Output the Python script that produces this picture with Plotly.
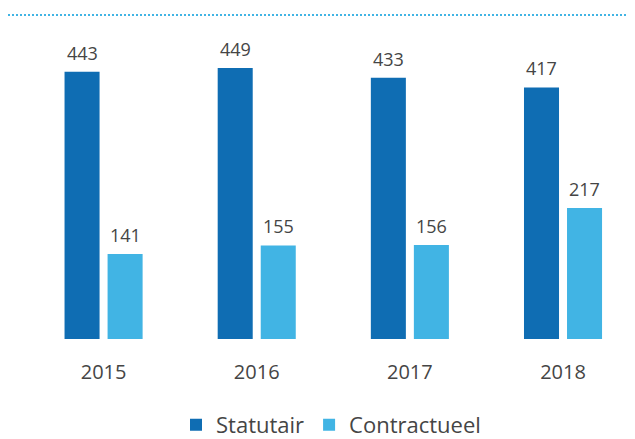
import plotly.graph_objects as go

years = ["2015", "2016", "2017", "2018"]
statutair = [443, 449, 433, 417]
contractueel = [141, 155, 156, 217]
series_names = ["Statutair", "Contractueel"]

dark = "#0f6db3"
light = "#41b4e4"
txt = "#454545"
FONT = "Open Sans"

fig = go.Figure()
fig.add_trace(go.Bar(x=years, y=statutair, name=series_names[0], marker_color=dark,
                     marker_line_width=0))
fig.add_trace(go.Bar(x=years, y=contractueel, name=series_names[1], marker_color=light,
                     marker_line_width=0))

ann = []
for i, v in enumerate(statutair):
    ann.append(dict(x=i, y=v, xref="x", yref="y", text=str(v), showarrow=False,
                    xshift=-21.5, yshift=5, yanchor="bottom",
                    font=dict(family=FONT, size=18, color=txt)))
for i, v in enumerate(contractueel):
    ann.append(dict(x=i, y=v, xref="x", yref="y", text=str(v), showarrow=False,
                    xshift=21.5, yshift=5, yanchor="bottom",
                    font=dict(family=FONT, size=18, color=txt)))

# page body has an 8px margin, so the figure is offset by (8, 8)
fig.update_layout(
    width=627, height=431,
    margin=dict(l=19, r=0, t=7, b=100, autoexpand=False),
    paper_bgcolor="white", plot_bgcolor="white",
    barmode="group", bargap=0.438, bargroupgap=0.186,
    font=dict(family=FONT, color=txt),
    annotations=ann,
    showlegend=True,
    legend=dict(orientation="h", xref="paper", yref="paper",
                x=0.5, xanchor="center", y=-0.265, yanchor="middle",
                font=dict(family=FONT, size=22, color=txt),
                itemwidth=30, traceorder="normal"),
    shapes=[dict(type="line", xref="paper", yref="paper",
                 x0=-19/608, x1=1.0, y0=1, y1=1,
                 line=dict(color="#41b4e4", width=2, dash="2px,2px"))],
)
fig.update_xaxes(type="category", range=[-0.5, 3.47], showgrid=False, zeroline=False,
                 showline=False, ticks="outside", ticklen=15, tickcolor="rgba(0,0,0,0)",
                 tickfont=dict(family=FONT, size=20, color=txt))
fig.update_yaxes(range=[0, 537], visible=False, showgrid=False, zeroline=False)

fig.write_html("out.html")
